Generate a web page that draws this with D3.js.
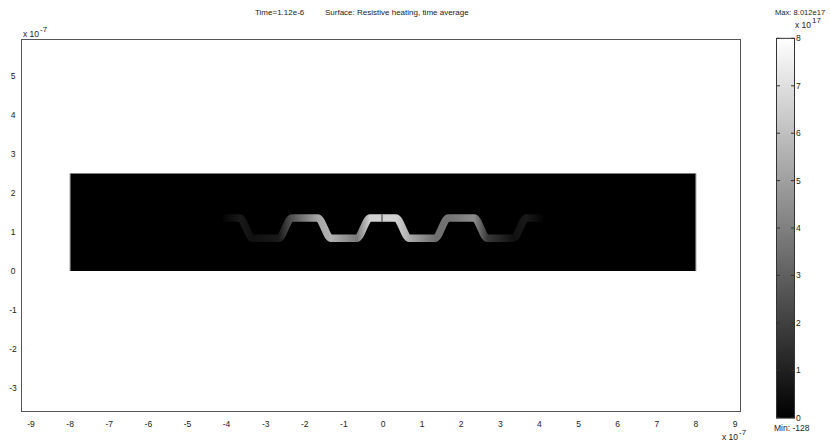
<!DOCTYPE html>
<html><head><meta charset="utf-8">
<script src="https://cdn.jsdelivr.net/npm/d3@7"></script>
<style>
body{margin:0;background:#fff}
svg{display:block}
text{font-family:"Liberation Sans",Arial,sans-serif;fill:#222}
</style>
</head><body>
<svg id="c" width="830" height="443"></svg>
<script>
// ---- data (x, y in units of 1e-7 m; heat in units of 1e17) ----
const xTickValues = [-9,-8,-7,-6,-5,-4,-3,-2,-1,0,1,2,3,4,5,6,7,8,9];
const yTickValues = [-3,-2,-1,0,1,2,3,4,5];
const colorTickValues = [0,1,2,3,4,5,6,7,8];
const domainX = [-8, 8];
const domainY = [0, 2.5];
const bandX    = [-4.1,-3.67,-3.33,-2.67,-2.33,-1.67,-1.33,-0.67,-0.33,0.33,0.67,1.33,1.67,2.33,2.67,3.33,3.67,4.1];
const bandY    = [1.36,1.36,0.84,0.84,1.36,1.36,0.84,0.84,1.36,1.36,0.84,0.84,1.36,1.36,0.84,0.84,1.36,1.36];
const bandHeat = [0.1,0.8,0.5,0.8,2.6,5.2,5.6,3.8,6.6,6.6,5.4,3.5,3.6,4.4,1.8,0.5,0.8,0.1];
const bandHalfThickness = 0.095;
const seamX = [0];
const heatMax = 8.012;
const heatMin = -128e-17;
const titleTime = "Time=1.12e-6";
const titleSurface = "Surface: Resistive heating, time average";

// ---- scales ----
const svg = d3.select("#c");
const xs = d3.scaleLinear().domain([-9, 9]).range([31, 735]);
const ys = d3.scaleLinear().domain([0, 5]).range([271, 76]);
const frameX = [xs.invert(21), xs.invert(740)];
const frameY = [ys.invert(411), ys.invert(39)];
const cs = d3.scaleLinear().domain([0, 8]).range([417.6, 38.4]);
const gray = d3.scaleLinear().domain([heatMin, heatMax]).range(["#000000", "#ffffff"]).clamp(true);

const defs = svg.append("defs");

// frame
svg.append("rect")
  .attr("x", xs(frameX[0]) + 0.5).attr("y", ys(frameY[1]) + 0.5)
  .attr("width", xs(frameX[1]) - xs(frameX[0])).attr("height", ys(frameY[0]) - ys(frameY[1]))
  .attr("fill", "#fff").attr("stroke", "#555").attr("stroke-width", 1);

// geometry (black domain)
svg.append("rect")
  .attr("x", xs(domainX[0])).attr("y", ys(domainY[1]))
  .attr("width", xs(domainX[1]) - xs(domainX[0])).attr("height", ys(domainY[0]) - ys(domainY[1]))
  .attr("fill", "#000");
svg.selectAll("line.edge").data(domainX).enter().append("line")
  .attr("class", "edge")
  .attr("x1", d => xs(d)).attr("x2", d => xs(d))
  .attr("y1", ys(domainY[1])).attr("y2", ys(domainY[0]))
  .attr("stroke", "#8a8a8a").attr("stroke-width", 1);

// heated band
const bx1 = xs(bandX[0]), bx2 = xs(bandX[bandX.length - 1]);
const grad = defs.append("linearGradient").attr("id", "bandGrad")
  .attr("gradientUnits", "userSpaceOnUse")
  .attr("x1", bx1).attr("x2", bx2).attr("y1", 0).attr("y2", 0);
grad.selectAll("stop").data(bandX).enter().append("stop")
  .attr("offset", d => (xs(d) - bx1) / (bx2 - bx1))
  .attr("stop-color", (d, i) => gray(bandHeat[i]));
const bandPts = bandX.map((d, i) => [d, bandY[i]]);
const line = d3.line().x(d => xs(d[0])).y(d => ys(d[1])).curve(d3.curveMonotoneX);
svg.append("path").attr("d", line(bandPts))
  .attr("fill", "none").attr("stroke", "url(#bandGrad)")
  .attr("stroke-width", ys(0) - ys(2 * bandHalfThickness))
  .attr("stroke-linejoin", "round");
svg.selectAll("line.seam").data(seamX).enter().append("line")
  .attr("class", "seam")
  .attr("x1", d => xs(d) - 1).attr("x2", d => xs(d) - 1)
  .attr("y1", ys(1.36 - bandHalfThickness)).attr("y2", ys(1.36 + bandHalfThickness))
  .attr("stroke", "#333").attr("stroke-width", 1);

// axes labels
svg.selectAll("text.xt").data(xTickValues).enter().append("text")
  .attr("class", "xt").attr("x", d => xs(d)).attr("y", 427)
  .attr("text-anchor", "middle").attr("font-size", "8.5px").text(d => d);
svg.selectAll("text.yt").data(yTickValues).enter().append("text")
  .attr("class", "yt").attr("x", 13).attr("y", d => ys(d) + 3)
  .attr("text-anchor", "middle").attr("font-size", "8.5px").text(d => d);

function expLabel(x, y, base, exp) {
  const t = svg.append("text").attr("x", x).attr("y", y).attr("font-size", "8.5px");
  t.append("tspan").text(base);
  t.append("tspan").attr("dy", -5).attr("dx", 1).attr("font-size", "8px").text(exp);
}
expLabel(23, 37, "x 10", "-7");
expLabel(722, 440, "x 10", "-7");
expLabel(795, 28, "x 10", "17");

// title
svg.append("text").attr("x", 255).attr("y", 15).attr("font-size", "8px").text(titleTime);
svg.append("text").attr("x", 325).attr("y", 15).attr("font-size", "8px").text(titleSurface);

// colorbar
const cg = defs.append("linearGradient").attr("id", "cbGrad")
  .attr("x1", 0).attr("x2", 0).attr("y1", 1).attr("y2", 0);
cg.selectAll("stop").data([heatMin, heatMax]).enter().append("stop")
  .attr("offset", (d, i) => i).attr("stop-color", d => gray(d));
svg.append("rect")
  .attr("x", 776.5).attr("y", cs(heatMax) + 0.5)
  .attr("width", 18).attr("height", cs(0) - cs(heatMax))
  .attr("fill", "url(#cbGrad)").attr("stroke", "#333").attr("stroke-width", 1);
svg.selectAll("line.cbl").data(colorTickValues).enter().append("line")
  .attr("class", "cbl").attr("x1", 777).attr("x2", 780)
  .attr("y1", d => cs(d)).attr("y2", d => cs(d)).attr("stroke", "#333");
svg.selectAll("line.cbr").data(colorTickValues).enter().append("line")
  .attr("class", "cbr").attr("x1", 791).attr("x2", 794)
  .attr("y1", d => cs(d)).attr("y2", d => cs(d)).attr("stroke", "#333");
svg.selectAll("text.ct").data(colorTickValues).enter().append("text")
  .attr("class", "ct").attr("x", 796).attr("y", d => cs(d) + 3)
  .attr("font-size", "8.5px").text(d => d);
svg.append("text").attr("x", 775).attr("y", 15).attr("font-size", "7.6px").text("Max: " + heatMax + "e17");
svg.append("text").attr("x", 774).attr("y", 431).attr("font-size", "8.5px").text("Min: " + (heatMin * 1e17).toFixed(0));
</script>
</body></html>
